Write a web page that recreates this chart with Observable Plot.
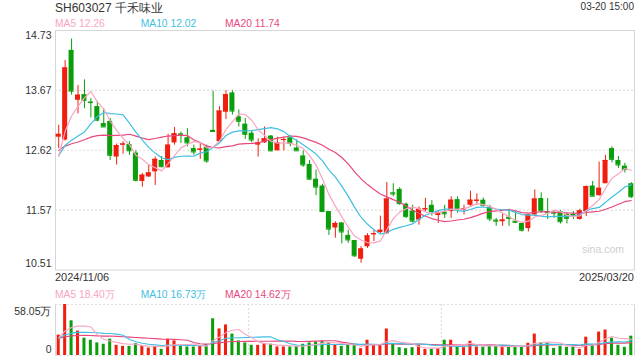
<!DOCTYPE html>
<html><head><meta charset="utf-8">
<script src="https://cdn.jsdelivr.net/npm/d3@7"></script>
<script src="https://cdn.jsdelivr.net/npm/@observablehq/plot@0.6"></script>
<style>
body{margin:0;background:#fff;}
#wrap{position:relative;width:640px;height:360px;font-family:"Liberation Sans",Arial,sans-serif;color:#333;overflow:hidden;background:#fff}
.t{position:absolute;white-space:nowrap;line-height:1}
#wrap svg{position:absolute;left:0}
</style></head><body>
<div id="wrap">
  <div class="t" style="left:55px;top:1.6px;font-size:12px;">SH603027 千禾味业</div>
  <div class="t" style="right:6px;top:2.2px;font-size:10px;">03-20 15:00</div>
  <div class="t" id="leg1" style="left:0;top:18.8px;font-size:10.3px;"></div>
  <div class="t" style="left:55px;top:272.4px;font-size:11px;">2024/11/06</div>
  <div class="t" style="right:6px;top:272.4px;font-size:11px;">2025/03/20</div>
  <div class="t" style="left:582px;top:244px;font-size:10.5px;color:#cfcfcf;">sina.com</div>
  <div class="t" id="leg2" style="left:0;top:289.8px;font-size:10.3px;"></div>
</div>
<script>
// ---- data ----
const opens  = [12.85,12.80,14.38,13.50,13.60,13.47,13.39,13.09,13.13,12.50,12.71,12.72,12.57,12.07,12.15,12.24,12.44,12.31,12.75,12.91,12.84,12.65,12.62,12.67,12.97,12.77,13.29,13.63,13.21,13.08,12.92,12.71,12.75,12.87,12.61,12.79,12.84,12.66,12.52,12.37,12.11,11.99,11.54,11.25,11.34,11.12,11.03,10.70,10.92,11.13,11.17,11.15,11.87,11.93,11.67,11.55,11.39,11.57,11.65,11.47,11.53,11.54,11.75,11.57,11.65,11.72,11.74,11.62,11.39,11.36,11.44,11.37,11.33,11.24,11.48,11.77,11.54,11.52,11.54,11.49,11.49,11.40,11.54,11.99,11.82,12.03,12.65,12.44,12.34,12.03];
const closes = [12.90,14.07,13.66,13.59,13.50,13.46,13.15,13.03,12.53,12.70,12.73,12.61,12.09,12.18,12.22,12.46,12.33,12.71,12.91,12.90,12.75,12.59,12.64,12.43,12.95,13.31,13.60,13.31,13.13,12.90,12.80,12.75,12.82,12.61,12.75,12.81,12.74,12.61,12.36,12.11,11.97,11.54,11.23,11.33,11.18,11.04,10.76,10.88,11.11,11.15,11.21,11.76,11.85,11.68,11.45,11.37,11.58,11.59,11.54,11.52,11.50,11.74,11.59,11.59,11.74,11.74,11.65,11.41,11.37,11.39,11.42,11.35,11.21,11.48,11.76,11.55,11.52,11.51,11.36,11.42,11.47,11.55,11.98,11.81,11.95,12.44,12.46,12.36,12.28,11.80];
const highs  = [13.06,14.20,14.58,13.76,13.86,13.53,13.48,13.35,13.18,12.73,12.77,12.77,12.61,12.21,12.36,12.50,12.51,12.90,13.02,12.94,13.00,12.71,12.75,12.71,13.66,13.39,13.67,13.67,13.33,13.18,12.97,12.82,13.03,12.88,12.85,12.85,12.88,12.80,12.61,12.44,12.27,12.02,11.54,11.36,11.34,11.21,11.03,10.92,11.15,11.21,11.46,12.05,12.03,11.96,11.69,11.65,11.62,11.77,11.73,11.56,11.65,11.80,11.80,11.65,11.90,11.85,11.78,11.65,11.42,11.49,11.58,11.54,11.34,11.48,11.92,11.87,11.77,11.56,11.56,11.52,11.54,11.58,11.99,12.07,12.41,12.53,12.68,12.51,12.39,12.05];
const lows   = [12.65,12.78,13.59,13.26,13.35,13.19,13.12,13.03,12.44,12.36,12.55,12.53,12.06,11.97,12.14,12.00,12.31,12.31,12.71,12.74,12.68,12.53,12.46,12.39,12.94,12.77,13.16,13.24,13.03,12.81,12.75,12.50,12.74,12.59,12.61,12.61,12.68,12.61,12.32,12.09,11.82,11.52,11.12,11.07,10.97,10.98,10.73,10.63,10.89,11.01,11.15,11.14,11.80,11.65,11.42,11.34,11.30,11.54,11.46,11.33,11.42,11.42,11.51,11.48,11.62,11.65,11.62,11.36,11.28,11.28,11.28,11.33,11.18,11.18,11.45,11.51,11.40,11.42,11.32,11.32,11.40,11.39,11.45,11.80,11.81,12.03,12.40,12.30,12.22,11.77];
// volume, 万手
const volumes = [23.2,58.05,39.5,27.8,19.7,17.4,14.3,12.8,18.6,11.6,10.4,10.4,13.6,10.4,8.5,10.1,7.0,18.6,16.6,10.4,9.7,9.7,10.8,12.8,41.8,30.2,34.8,24.4,16.6,14.3,11.6,11.6,13.6,12.8,9.7,9.7,9.7,10.4,12.8,14.3,15.4,16.2,14.7,11.6,10.4,11.6,11.6,7.8,17.4,12.2,12.2,30.2,12.8,8.9,7.8,8.9,11.2,7.0,7.0,7.8,17.4,17.4,9.7,8.9,16.2,9.7,9.3,10.4,10.4,10.4,11.2,10.4,9.3,13.9,24.4,14.3,14.3,8.1,10.4,9.3,9.3,7.0,20.9,11.6,26.7,29.0,19.7,11.6,9.3,22.0];
// closes / volumes of the 19 sessions before the window, estimated from where the MA lines start
const priorCloses  = [12.60,12.85,12.95,12.70,12.55,12.65,12.80,12.75,12.62,12.63,12.30,12.75,12.85,12.80,12.03,11.87,12.31,12.74,12.75];
const priorVolumes = [18.0,21.0,19.5,17.0,20.5,22.0,18.5,16.5,19.0,20.0,18.0,21.5,19.0,17.5,20.0,18.5,19.5,20.5,18.5];
const yTicks = [10.51, 11.565, 12.62, 13.675, 14.73];
const yTickLabels = ["10.51", "11.57", "12.62", "13.67", "14.73"];
const volMax = 58.05;
const volTickLabels = ["0", "58.05万"];
const maLegend = [["MA5", "12.26"], ["MA10", "12.02"], ["MA20", "11.74"]];
const volLegend = [["MA5", "18.40万"], ["MA10", "16.73万"], ["MA20", "14.62万"]];

// ---- styles ----
const RED = "#f01e0e", GREEN = "#0a9e0a";
const C5 = "#f9a4c2", C10 = "#3fbfe2", C20 = "#e8487c";
const maColors = [C5, C10, C20];
const GRID = "#dedede", FRAME = "#d6d6d6";

function rolling(values, prior, n) {
  const all = prior.concat(values), off = prior.length;
  return values.map((_, i) => d3.mean(all.slice(off + i - n + 1, off + i + 1)));
}
const idx = d3.range(closes.length);
const c5 = rolling(closes, priorCloses, 5), c10 = rolling(closes, priorCloses, 10), c20 = rolling(closes, priorCloses, 20);
const v5 = rolling(volumes, priorVolumes, 5), v10 = rolling(volumes, priorVolumes, 10), v20 = rolling(volumes, priorVolumes, 20);
const data = idx.map(i => ({
  i, open: opens[i], close: closes[i], high: highs[i], low: lows[i], vol: volumes[i],
  col: closes[i] >= opens[i] ? RED : GREEN,
  ma5: c5[i], ma10: c10[i], ma20: c20[i], vma5: v5[i], vma10: v10[i], vma20: v20[i]
}));

const legX = [55, 140.7, 225];
function legend(el, items) {
  items.forEach(([k, v], j) => {
    const s = document.createElement("span");
    s.className = "t"; s.style.left = legX[j] + "px"; s.style.top = "0"; s.style.color = maColors[j];
    s.textContent = k + " " + v;
    el.appendChild(s);
  });
}
legend(document.getElementById("leg1"), maLegend);
legend(document.getElementById("leg2"), volLegend);

const xScale = {type: "band", domain: idx, paddingInner: 0.22, paddingOuter: 0.11, axis: null};
const style = {fontFamily: "'Liberation Sans', Arial, sans-serif", fontSize: "10.5px", color: "#333", background: "transparent", overflow: "visible"};
const fmtY = d => yTickLabels[yTicks.indexOf(d)];

const main = Plot.plot({
  width: 640, height: 271, marginTop: 30, marginBottom: 1.5, marginLeft: 55, marginRight: 6,
  x: xScale,
  y: {domain: [yTicks[0], yTicks[4]], axis: null},
  color: {type: "identity"},
  style,
  marks: [
    Plot.ruleY(yTicks.slice(1, 4), {stroke: GRID, strokeWidth: 1.2, strokeDasharray: "2,2"}),
    Plot.frame({stroke: FRAME}),
    Plot.axisY(yTicks.slice(1, 4), {tickSize: 0, tickPadding: 4, tickFormat: fmtY, fill: "#333"}),
    Plot.axisY([yTicks[4]], {tickSize: 0, tickPadding: 4, tickFormat: fmtY, dy: 5, fill: "#333"}),
    Plot.axisY([yTicks[0]], {tickSize: 0, tickPadding: 4, tickFormat: fmtY, dy: -6.5, fill: "#333"}),
    Plot.ruleX(data, {x: "i", y1: "low", y2: "high", stroke: "col", strokeWidth: 1}),
    Plot.barY(data, {x: "i", y1: "open", y2: "close", fill: "col"}),
    Plot.tickY(data, {x: "i", y: "close", stroke: "col"}),
    Plot.line(data, {x: "i", y: "ma20", stroke: C20, strokeWidth: 1.2}),
    Plot.line(data, {x: "i", y: "ma10", stroke: C10, strokeWidth: 1.2}),
    Plot.line(data, {x: "i", y: "ma5", stroke: C5, strokeWidth: 1.2})
  ]
});
main.style.top = "0px";
document.getElementById("wrap").appendChild(main);

const step = 579 / idx.length;
const vol = Plot.plot({
  width: 640, height: 70, marginTop: 14, marginBottom: 5, marginLeft: 55, marginRight: 6,
  x: xScale,
  y: {domain: [0, volMax], axis: null},
  color: {type: "identity"},
  style,
  marks: [
    Plot.ruleY([volMax, 0], {stroke: GRID, strokeWidth: 1.2, strokeDasharray: "2,2"}),
    Plot.ruleX([idx[30], idx[60]], {x: d => d, dx: -step / 2, stroke: GRID, strokeWidth: 1.2, strokeDasharray: "2,2"}),
    Plot.ruleX([idx[0]], {x: d => d, dx: -step / 2, stroke: FRAME}),
    Plot.ruleX([idx[idx.length - 1]], {x: d => d, dx: step / 2, stroke: FRAME}),
    Plot.axisY([volMax], {tickSize: 0, tickPadding: 4, tickFormat: () => volTickLabels[1], dy: 7, fill: "#333"}),
    Plot.axisY([0], {tickSize: 0, tickPadding: 4, tickFormat: () => volTickLabels[0], dy: -6, fill: "#333"}),
    Plot.barY(data, {x: "i", y: "vol", fill: "col", insetLeft: 1, insetRight: 1}),
    Plot.line(data, {x: "i", y: "vma20", stroke: C20, strokeWidth: 1.1}),
    Plot.line(data, {x: "i", y: "vma10", stroke: C10, strokeWidth: 1.1}),
    Plot.line(data, {x: "i", y: "vma5", stroke: C5, strokeWidth: 1.1})
  ]
});
vol.style.top = "290px";
document.getElementById("wrap").appendChild(vol);
</script>
</body></html>
